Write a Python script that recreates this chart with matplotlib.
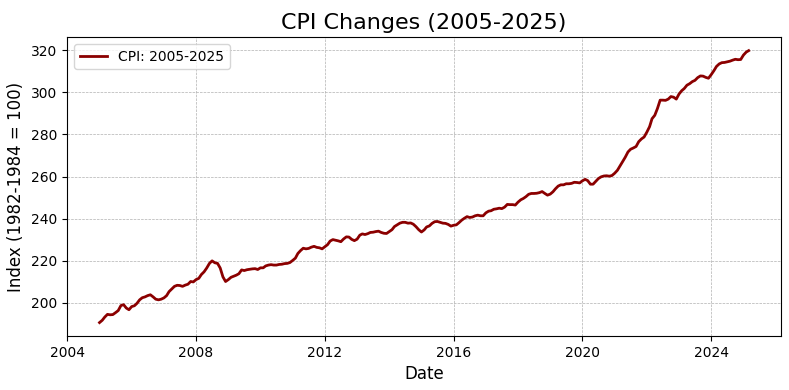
import matplotlib
matplotlib.use("Agg")
import matplotlib.pyplot as plt
import pandas as pd

# monthly CPI values, Jan 2005 - Mar 2025
cpi_2005 = [190.7, 191.8, 193.3, 194.6, 194.4, 194.5, 195.4, 196.4, 198.8, 199.2, 197.6, 196.8]
cpi_2006 = [198.3, 198.7, 199.8, 201.5, 202.5, 202.9, 203.5, 203.9, 202.9, 201.8, 201.5, 201.8]
cpi_2007 = [202.4, 203.5, 205.4, 206.7, 207.9, 208.4, 208.3, 207.9, 208.5, 208.9, 210.2, 210.0]
cpi_2008 = [211.1, 211.7, 213.5, 214.8, 216.6, 218.8, 220.0, 219.1, 218.8, 216.6, 212.4, 210.2]
cpi_2009 = [211.1, 212.2, 212.7, 213.2, 213.9, 215.7, 215.4, 215.8, 216.0, 216.2, 216.3, 215.9]
cpi_2010 = [216.7, 216.7, 217.6, 218.0, 218.2, 218.0, 218.0, 218.3, 218.4, 218.7, 218.8, 219.2]
cpi_2011 = [220.2, 221.3, 223.5, 224.9, 226.0, 225.7, 225.9, 226.5, 226.9, 226.4, 226.2, 225.7]
cpi_2012 = [226.7, 227.7, 229.4, 230.1, 229.8, 229.5, 229.1, 230.4, 231.4, 231.3, 230.2, 229.6]
cpi_2013 = [230.3, 232.2, 232.8, 232.5, 232.9, 233.5, 233.6, 233.9, 234.1, 233.5, 233.1, 233.0]
cpi_2014 = [233.9, 234.8, 236.3, 237.1, 237.9, 238.3, 238.3, 237.9, 238.0, 237.4, 236.2, 234.8]
cpi_2015 = [233.7, 234.7, 236.1, 236.6, 237.8, 238.6, 238.7, 238.3, 237.9, 237.8, 237.3, 236.5]
cpi_2016 = [236.9, 237.1, 238.1, 239.3, 240.2, 241.0, 240.6, 240.8, 241.4, 241.7, 241.4, 241.4]
cpi_2017 = [242.8, 243.6, 243.8, 244.5, 244.7, 245.0, 244.8, 245.5, 246.8, 246.7, 246.7, 246.5]
cpi_2018 = [247.9, 249.0, 249.6, 250.5, 251.6, 252.0, 252.0, 252.1, 252.4, 252.9, 252.0, 251.2]
cpi_2019 = [251.7, 252.8, 254.2, 255.5, 256.1, 256.1, 256.6, 256.6, 256.8, 257.3, 257.2, 257.0]
cpi_2020 = [258.0, 258.7, 258.1, 256.4, 256.4, 257.8, 259.1, 259.9, 260.3, 260.4, 260.2, 260.5]
cpi_2021 = [261.6, 263.0, 264.9, 267.1, 269.2, 271.7, 273.0, 273.6, 274.3, 276.6, 277.9, 278.8]
cpi_2022 = [281.1, 283.7, 287.5, 289.1, 292.3, 296.3, 296.3, 296.2, 296.8, 298.0, 297.7, 296.8]
cpi_2023 = [299.2, 300.8, 301.8, 303.4, 304.1, 305.1, 305.7, 307.0, 307.8, 307.7, 307.1, 306.7]
cpi_2024 = [308.4, 310.3, 312.3, 313.5, 314.1, 314.2, 314.5, 314.8, 315.3, 315.7, 315.5, 315.6]
cpi_2025 = [317.7, 319.1, 319.8]

cpi_values = (cpi_2005 + cpi_2006 + cpi_2007 + cpi_2008 + cpi_2009 + cpi_2010 + cpi_2011
              + cpi_2012 + cpi_2013 + cpi_2014 + cpi_2015 + cpi_2016 + cpi_2017 + cpi_2018
              + cpi_2019 + cpi_2020 + cpi_2021 + cpi_2022 + cpi_2023 + cpi_2024 + cpi_2025)
dates = pd.date_range("2005-01-01", periods=len(cpi_values), freq="MS")

fig, ax = plt.subplots(figsize=(7.89, 3.9), dpi=100)
ax.plot(dates, cpi_values, color="darkred", linewidth=2, label="CPI: 2005-2025")
ax.set_title("CPI Changes (2005-2025)", fontsize=16)
ax.set_xlabel("Date", fontsize=12)
ax.set_ylabel("Index (1982-1984 = 100)", fontsize=12)
ax.grid(True, linestyle="--", linewidth=0.5)
ax.legend(loc="upper left")
fig.subplots_adjust(left=0.085, right=0.99, bottom=0.138, top=0.905)
plt.savefig("out.png")
